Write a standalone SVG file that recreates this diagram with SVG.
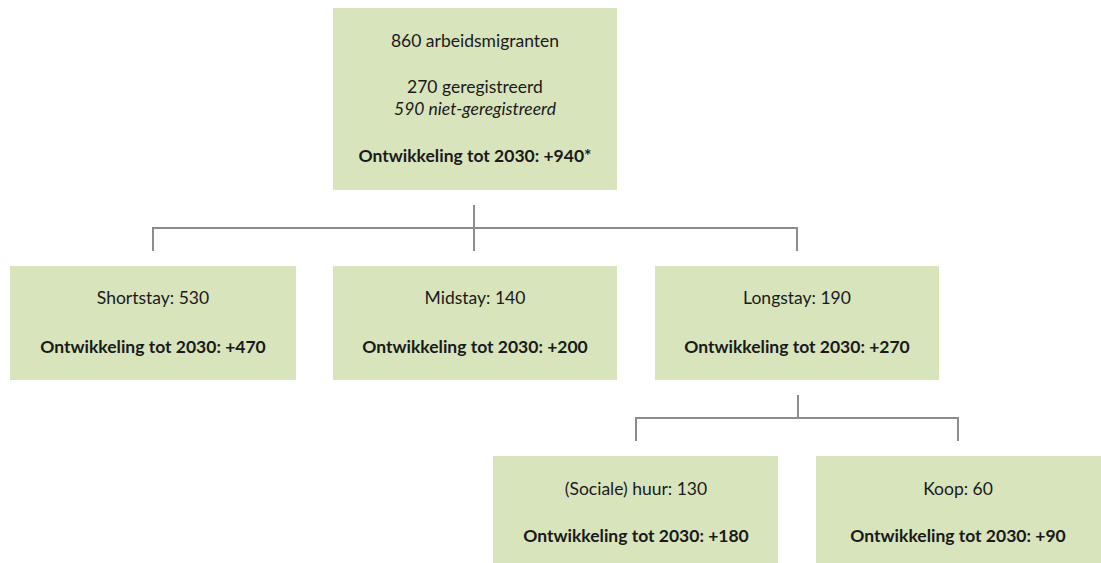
<svg xmlns="http://www.w3.org/2000/svg" width="1101" height="563" viewBox="0 0 1101 563">
<style>
.box{fill:#d8e4bc}
text{font-family:Lato,"Open Sans","Liberation Sans",sans-serif;font-size:17.5px;fill:#1a1a1a;text-anchor:middle}
.b{font-weight:bold}
.i{font-style:italic}
.c{fill:none;stroke:#8c8c8c;stroke-width:2}
</style>
<rect width="1101" height="563" fill="#fff"/>
<g id="connectors">
<path class="c" d="M474 205V228M153 251V228H797V251M474 228V251"/>
<path class="c" d="M798 395V418M636 441V418H958V441"/>
</g>
<g id="top">
<rect class="box" x="333" y="8" width="284" height="182"/>
<text x="475" y="47">860 arbeidsmigranten</text>
<text x="475" y="93">270 geregistreerd</text>
<text x="475" y="115" class="i">590 niet-geregistreerd</text>
<text x="475" y="162" class="b">Ontwikkeling tot 2030: +940*</text>
</g>
<g id="shortstay">
<rect class="box" x="10" y="266" width="286" height="114"/>
<text x="153" y="304">Shortstay: 530</text>
<text x="153" y="353" class="b">Ontwikkeling tot 2030: +470</text>
</g>
<g id="midstay">
<rect class="box" x="333" y="266" width="284" height="114"/>
<text x="475" y="304">Midstay: 140</text>
<text x="475" y="353" class="b">Ontwikkeling tot 2030: +200</text>
</g>
<g id="longstay">
<rect class="box" x="655" y="266" width="284" height="114"/>
<text x="797" y="304">Longstay: 190</text>
<text x="797" y="353" class="b">Ontwikkeling tot 2030: +270</text>
</g>
<g id="huur">
<rect class="box" x="493" y="456" width="285" height="107"/>
<text x="636" y="495">(Sociale) huur: 130</text>
<text x="636" y="542" class="b">Ontwikkeling tot 2030: +180</text>
</g>
<g id="koop">
<rect class="box" x="816" y="456" width="285" height="107"/>
<text x="958" y="495">Koop: 60</text>
<text x="958" y="542" class="b">Ontwikkeling tot 2030: +90</text>
</g>
</svg>
